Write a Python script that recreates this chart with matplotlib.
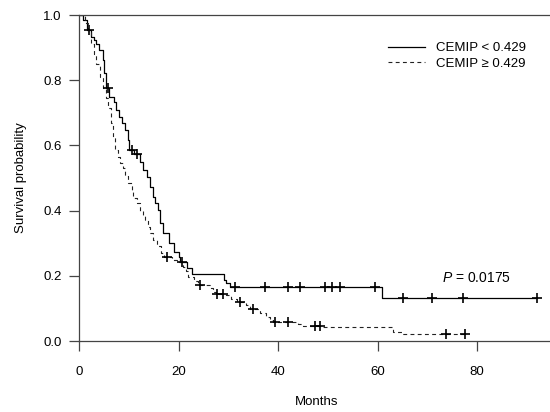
import numpy as np
import matplotlib
matplotlib.use('Agg')
import matplotlib.pyplot as plt

plt.rcParams['font.family'] = ['Liberation Sans', 'DejaVu Sans']
plt.rcParams['mathtext.fontset'] = 'custom'
plt.rcParams['mathtext.rm'] = 'Liberation Sans'
plt.rcParams['mathtext.it'] = 'Liberation Sans:italic'

''' DATA '''

# Kaplan-Meier steps, CEMIP < 0.429 (month, survival)
low_t = [0, 0.9, 1.6, 2.4, 3.1, 3.4, 4.1, 4.8, 5.1, 5.5, 6.1, 7.1, 7.4, 8.1, 8.6,
         9.3, 9.9, 10.1, 11.0, 12.3, 12.9, 13.6, 14.3, 14.9, 15.3, 15.9, 16.3,
         16.9, 18.0, 19.0, 20.0, 20.4, 21.7, 22.7, 29.1, 29.6, 30.4, 61.0, 92.1]
low_s = [1.0, 0.985, 0.955, 0.933, 0.923, 0.910, 0.893, 0.862, 0.821, 0.777,
         0.749, 0.734, 0.709, 0.688, 0.670, 0.647, 0.617, 0.587, 0.575, 0.550,
         0.525, 0.504, 0.473, 0.443, 0.422, 0.402, 0.361, 0.330, 0.300, 0.274,
         0.259, 0.243, 0.223, 0.206, 0.188, 0.178, 0.165, 0.131, 0.131]
low_cens = [2.07, 5.89, 10.6, 11.66, 20.64, 31.4, 37.4, 42.1, 44.4, 49.4, 50.8,
            52.5, 59.5, 65.2, 70.9, 77.2, 92.1]

# CEMIP >= 0.429
high_t = [0, 1.2, 1.75, 2.4, 3.0, 3.5, 4.2, 4.8, 5.4, 5.9, 6.5, 6.9, 7.2, 7.8,
          8.2, 8.8, 9.2, 9.8, 10.6, 10.9, 11.6, 12.3, 12.8, 13.2, 13.9, 14.3,
          14.9, 15.6, 16.4, 17.1, 18.6, 19.6, 20.9, 21.6, 22.0, 23.2, 24.0,
          26.3, 27.0, 27.5, 29.5, 30.5, 31.8, 33.5, 34.4, 36.3, 37.5, 38.4,
          39.0, 44.0, 45.0, 49.0, 63.2, 64.9, 77.9]
high_s = [1.0, 0.975, 0.954, 0.91, 0.88, 0.85, 0.81, 0.775, 0.745, 0.715, 0.67,
          0.625, 0.585, 0.565, 0.545, 0.53, 0.505, 0.485, 0.463, 0.44, 0.422,
          0.40, 0.385, 0.37, 0.35, 0.33, 0.31, 0.29, 0.27, 0.259, 0.25, 0.243,
          0.228, 0.215, 0.197, 0.185, 0.172, 0.162, 0.151, 0.145, 0.14, 0.13,
          0.121, 0.11, 0.097, 0.085, 0.075, 0.065, 0.057, 0.052, 0.047, 0.042,
          0.029, 0.021, 0.021]
high_cens = [17.6, 24.4, 27.8, 28.9, 32.4, 35.0, 39.3, 42.1, 47.4, 48.4, 73.7, 77.6]

labels = ['CEMIP < 0.429', 'CEMIP \u2265 0.429']
p_text = '$\\mathit{P}$ = 0.0175'


def at(times, steps_t, steps_s):
    idx = np.searchsorted(steps_t, times, side='right') - 1
    return np.array(steps_s)[idx]


''' PLOTTING '''

fig = plt.figure(figsize=(5.5, 4.12), dpi=100)
ax = fig.add_axes([79 / 550, 71 / 412, 476 / 550, 326 / 412])

ax.plot(low_t, low_s, drawstyle='steps-post', color='black', lw=0.9, label=labels[0])
ax.plot(high_t, high_s, drawstyle='steps-post', color='#222222', lw=0.8,
        linestyle=(0, (3.5, 3)), label=labels[1])
ax.plot(low_cens, at(low_cens, low_t, low_s), '+', color='black', ms=7, mew=1.2)
ax.plot(high_cens, at(high_cens, high_t, high_s), '+', color='black', ms=7, mew=1.2)

ax.set_xlim(0, 476 / 4.975)
ax.set_ylim(0, 1)
ax.set_xticks([0, 20, 40, 60, 80])
ax.set_yticks([0, 0.2, 0.4, 0.6, 0.8, 1.0])
ax.set_yticklabels(['0.0', '0.2', '0.4', '0.6', '0.8', '1.0'])
ax.tick_params(direction='out', length=7.5, width=0.9, color='#444444',
               labelsize=9.5, pad=5)
ax.tick_params(axis='x', pad=10.5)
for side in ['left', 'bottom', 'top']:
    ax.spines[side].set_color('#444444')
    ax.spines[side].set_linewidth(0.9)
ax.spines['right'].set_visible(False)

ax.set_xlabel('Months', fontsize=9.5)
ax.set_ylabel('Survival probability', fontsize=9.5)
ax.xaxis.set_label_coords(0.5, -0.168)
ax.yaxis.set_label_coords(-0.109, 0.5)

ax.text(72.9, 0.192, p_text, fontsize=10, va='center', ha='left')

ax.legend(loc='upper left', bbox_to_anchor=(388 / 550, 1 - 42 / 412),
          bbox_transform=fig.transFigure, frameon=False, fontsize=9.5,
          handlelength=2.8, handletextpad=0.85, labelspacing=0.25,
          borderpad=0, borderaxespad=0)

fig.savefig('out.png', dpi=100)
